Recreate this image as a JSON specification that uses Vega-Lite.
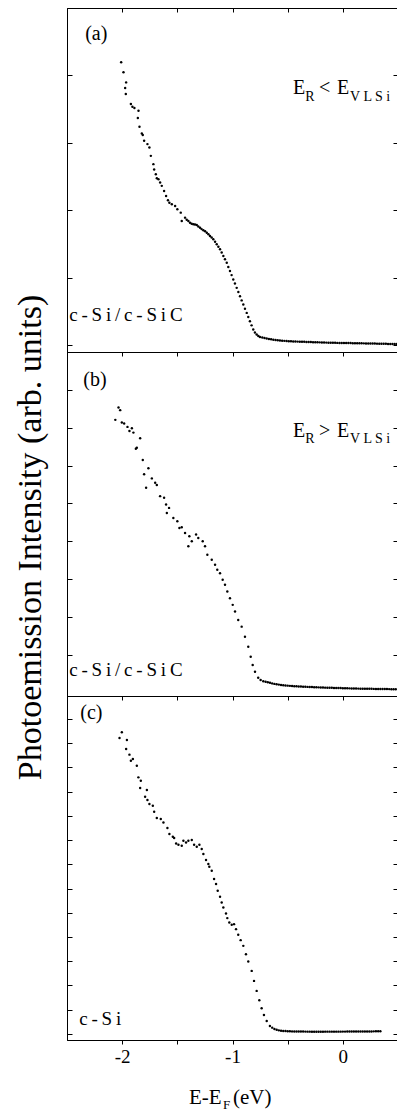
{
  "$schema": "https://vega.github.io/schema/vega-lite/v6.json",
  "padding": {"left": 12, "top": 7, "right": 0, "bottom": 0},
  "autosize": {"type": "pad"},
  "background": "white",
  "spacing": 0,
  "bounds": "flush",
  "config": {
    "view": {"stroke": "black", "strokeWidth": 1},
    "font": "Liberation Serif",
    "text": {"font": "Liberation Serif"},
    "axis": {"grid": false, "domainColor": "black", "tickColor": "black", "labelFont": "Liberation Serif", "titleFont": "Liberation Serif", "labelColor": "black", "titleColor": "black", "titleFontWeight": "normal"}
  },
  "datasets": {
    "a": [
      {"x":-2.009,"y":4.195},{"x":-1.988,"y":4.046},{"x":-1.964,"y":3.897},{"x":-1.973,"y":3.814},{"x":-1.967,"y":3.725},{"x":-1.921,"y":3.577},{"x":-1.907,"y":3.536},{"x":-1.889,"y":3.517},{"x":-1.852,"y":3.477},{"x":-1.858,"y":3.368},{"x":-1.843,"y":3.239},{"x":-1.822,"y":3.140},{"x":-1.813,"y":3.116},{"x":-1.801,"y":3.031},{"x":-1.771,"y":2.982},{"x":-1.753,"y":2.932},{"x":-1.740,"y":2.808},{"x":-1.717,"y":2.685},{"x":-1.710,"y":2.605},{"x":-1.695,"y":2.536},{"x":-1.686,"y":2.477},{"x":-1.671,"y":2.462},{"x":-1.656,"y":2.412},{"x":-1.641,"y":2.363},{"x":-1.620,"y":2.288},{"x":-1.602,"y":2.214},{"x":-1.585,"y":2.150},{"x":-1.572,"y":2.114},{"x":-1.550,"y":2.091},{"x":-1.520,"y":2.065},{"x":-1.500,"y":2.016},{"x":-1.469,"y":1.966},{"x":-1.460,"y":1.842},{"x":-1.430,"y":1.892},{"x":-1.415,"y":1.860},{"x":-1.400,"y":1.842},{"x":-1.385,"y":1.817},{"x":-1.370,"y":1.800},{"x":-1.355,"y":1.793},{"x":-1.340,"y":1.790},{"x":-1.324,"y":1.783},{"x":-1.310,"y":1.760},{"x":-1.294,"y":1.743},{"x":-1.280,"y":1.722},{"x":-1.264,"y":1.704},{"x":-1.248,"y":1.690},{"x":-1.233,"y":1.669},{"x":-1.218,"y":1.645},{"x":-1.204,"y":1.620},{"x":-1.189,"y":1.598},{"x":-1.174,"y":1.571},{"x":-1.158,"y":1.535},{"x":-1.143,"y":1.496},{"x":-1.128,"y":1.460},{"x":-1.113,"y":1.422},{"x":-1.098,"y":1.375},{"x":-1.083,"y":1.322},{"x":-1.068,"y":1.275},{"x":-1.052,"y":1.223},{"x":-1.038,"y":1.160},{"x":-1.023,"y":1.100},{"x":-1.008,"y":1.040},{"x":-0.993,"y":0.976},{"x":-0.978,"y":0.915},{"x":-0.962,"y":0.851},{"x":-0.947,"y":0.790},{"x":-0.932,"y":0.728},{"x":-0.917,"y":0.665},{"x":-0.902,"y":0.605},{"x":-0.887,"y":0.540},{"x":-0.871,"y":0.480},{"x":-0.857,"y":0.420},{"x":-0.842,"y":0.357},{"x":-0.827,"y":0.295},{"x":-0.812,"y":0.233},{"x":-0.797,"y":0.190},{"x":-0.781,"y":0.159},{"x":-0.766,"y":0.138},{"x":-0.751,"y":0.123},
      {"x":-0.73,"y":0.115},{"x":-0.71,"y":0.107},{"x":-0.69,"y":0.100},{"x":-0.67,"y":0.094},{"x":-0.65,"y":0.088},{"x":-0.63,"y":0.083},{"x":-0.61,"y":0.077},{"x":-0.59,"y":0.073},{"x":-0.57,"y":0.070},{"x":-0.55,"y":0.067},{"x":-0.53,"y":0.065},{"x":-0.51,"y":0.063},{"x":-0.49,"y":0.060},{"x":-0.47,"y":0.058},{"x":-0.45,"y":0.057},{"x":-0.43,"y":0.055},{"x":-0.41,"y":0.054},{"x":-0.39,"y":0.053},{"x":-0.37,"y":0.052},{"x":-0.35,"y":0.051},{"x":-0.33,"y":0.049},{"x":-0.31,"y":0.048},{"x":-0.29,"y":0.047},{"x":-0.27,"y":0.046},{"x":-0.25,"y":0.045},{"x":-0.23,"y":0.044},{"x":-0.21,"y":0.043},{"x":-0.19,"y":0.041},{"x":-0.17,"y":0.040},{"x":-0.15,"y":0.039},{"x":-0.13,"y":0.038},{"x":-0.11,"y":0.037},{"x":-0.09,"y":0.037},{"x":-0.07,"y":0.036},{"x":-0.05,"y":0.035},{"x":-0.03,"y":0.034},{"x":-0.01,"y":0.034},{"x":0.01,"y":0.033},{"x":0.03,"y":0.033},{"x":0.05,"y":0.032},{"x":0.07,"y":0.032},{"x":0.09,"y":0.031},{"x":0.11,"y":0.031},{"x":0.13,"y":0.030},{"x":0.15,"y":0.029},{"x":0.17,"y":0.029},{"x":0.19,"y":0.028},{"x":0.21,"y":0.027},{"x":0.23,"y":0.027},{"x":0.25,"y":0.026},{"x":0.27,"y":0.025},{"x":0.29,"y":0.025},{"x":0.31,"y":0.024},{"x":0.33,"y":0.023},{"x":0.35,"y":0.023},{"x":0.37,"y":0.022},{"x":0.39,"y":0.021},{"x":0.41,"y":0.020},{"x":0.43,"y":0.019},{"x":0.45,"y":0.019},{"x":0.47,"y":0.018},{"x":0.49,"y":0.018}
    ],
    "b": [
      {"x":-2.033,"y":6.533},{"x":-2.018,"y":6.464},{"x":-2.062,"y":6.207},{"x":-2.003,"y":6.135},{"x":-1.982,"y":6.109},{"x":-1.952,"y":6.021},{"x":-1.912,"y":5.987},{"x":-1.934,"y":5.915},{"x":-1.898,"y":5.870},{"x":-1.837,"y":5.721},{"x":-1.867,"y":5.472},{"x":-1.876,"y":5.446},{"x":-1.813,"y":5.146},{"x":-1.762,"y":4.926},{"x":-1.801,"y":4.767},{"x":-1.731,"y":4.660},{"x":-1.701,"y":4.544},{"x":-1.686,"y":4.483},{"x":-1.783,"y":4.411},{"x":-1.656,"y":4.191},{"x":-1.620,"y":4.146},{"x":-1.602,"y":3.971},{"x":-1.575,"y":3.881},{"x":-1.595,"y":3.748},{"x":-1.536,"y":3.615},{"x":-1.500,"y":3.528},{"x":-1.481,"y":3.350},{"x":-1.460,"y":3.369},{"x":-1.430,"y":3.218},{"x":-1.391,"y":3.130},{"x":-1.400,"y":2.865},{"x":-1.369,"y":2.997},{"x":-1.330,"y":3.175},{"x":-1.310,"y":3.085},{"x":-1.270,"y":2.997},{"x":-1.249,"y":2.865},{"x":-1.228,"y":2.645},{"x":-1.188,"y":2.512},{"x":-1.158,"y":2.379},{"x":-1.138,"y":2.247},{"x":-1.113,"y":2.156},{"x":-1.089,"y":1.981},{"x":-1.068,"y":1.849},{"x":-1.047,"y":1.671},{"x":-1.023,"y":1.493},{"x":-0.998,"y":1.318},{"x":-0.977,"y":1.141},{"x":-0.948,"y":0.920},{"x":-0.917,"y":0.743},{"x":-0.887,"y":0.477},{"x":-0.857,"y":0.212},{"x":-0.835,"y":-0.053},{"x":-0.817,"y":-0.273},{"x":-0.796,"y":-0.451},{"x":-0.767,"y":-0.610},{"x":-0.745,"y":-0.665},{"x":-0.721,"y":-0.698},
      {"x":-0.70,"y":-0.712},{"x":-0.68,"y":-0.727},{"x":-0.66,"y":-0.742},{"x":-0.64,"y":-0.757},{"x":-0.62,"y":-0.770},{"x":-0.60,"y":-0.780},{"x":-0.58,"y":-0.789},{"x":-0.56,"y":-0.797},{"x":-0.54,"y":-0.804},{"x":-0.52,"y":-0.810},{"x":-0.50,"y":-0.816},{"x":-0.48,"y":-0.822},{"x":-0.46,"y":-0.826},{"x":-0.44,"y":-0.830},{"x":-0.42,"y":-0.834},{"x":-0.40,"y":-0.837},{"x":-0.38,"y":-0.840},{"x":-0.36,"y":-0.843},{"x":-0.34,"y":-0.846},{"x":-0.32,"y":-0.849},{"x":-0.30,"y":-0.852},{"x":-0.28,"y":-0.854},{"x":-0.26,"y":-0.857},{"x":-0.24,"y":-0.860},{"x":-0.22,"y":-0.862},{"x":-0.20,"y":-0.864},{"x":-0.18,"y":-0.867},{"x":-0.16,"y":-0.869},{"x":-0.14,"y":-0.871},{"x":-0.12,"y":-0.872},{"x":-0.10,"y":-0.874},{"x":-0.08,"y":-0.876},{"x":-0.06,"y":-0.878},{"x":-0.04,"y":-0.879},{"x":-0.02,"y":-0.881},{"x":0.00,"y":-0.883},{"x":0.02,"y":-0.884},{"x":0.04,"y":-0.886},{"x":0.06,"y":-0.888},{"x":0.08,"y":-0.890},{"x":0.10,"y":-0.892},{"x":0.12,"y":-0.894},{"x":0.14,"y":-0.895},{"x":0.16,"y":-0.896},{"x":0.18,"y":-0.897},{"x":0.20,"y":-0.898},{"x":0.22,"y":-0.899},{"x":0.24,"y":-0.900},{"x":0.26,"y":-0.901},{"x":0.28,"y":-0.902},{"x":0.30,"y":-0.903},{"x":0.32,"y":-0.904},{"x":0.34,"y":-0.905},{"x":0.36,"y":-0.906},{"x":0.38,"y":-0.907},{"x":0.40,"y":-0.907},{"x":0.42,"y":-0.908},{"x":0.44,"y":-0.909},{"x":0.46,"y":-0.910},{"x":0.48,"y":-0.910}
    ],
    "c": [
      {"x":-2.003,"y":12.450},{"x":-2.024,"y":12.219},{"x":-1.957,"y":12.136},{"x":-1.964,"y":11.764},{"x":-1.934,"y":11.529},{"x":-1.921,"y":11.281},{"x":-1.903,"y":11.351},{"x":-1.867,"y":11.074},{"x":-1.853,"y":10.591},{"x":-1.831,"y":10.455},{"x":-1.837,"y":10.153},{"x":-1.776,"y":10.070},{"x":-1.792,"y":9.793},{"x":-1.771,"y":9.657},{"x":-1.753,"y":9.492},{"x":-1.722,"y":9.421},{"x":-1.710,"y":9.174},{"x":-1.686,"y":8.913},{"x":-1.650,"y":8.872},{"x":-1.626,"y":8.731},{"x":-1.590,"y":8.500},{"x":-1.572,"y":8.252},{"x":-1.541,"y":8.140},{"x":-1.529,"y":8.087},{"x":-1.511,"y":7.864},{"x":-1.490,"y":7.810},{"x":-1.460,"y":7.769},{"x":-1.445,"y":7.975},{"x":-1.421,"y":7.905},{"x":-1.400,"y":7.975},{"x":-1.369,"y":8.004},{"x":-1.348,"y":7.810},{"x":-1.324,"y":7.727},{"x":-1.300,"y":7.810},{"x":-1.279,"y":7.632},{"x":-1.264,"y":7.426},{"x":-1.240,"y":7.178},{"x":-1.219,"y":7.012},{"x":-1.210,"y":6.901},{"x":-1.188,"y":6.736},{"x":-1.167,"y":6.393},{"x":-1.149,"y":6.186},{"x":-1.134,"y":5.909},{"x":-1.113,"y":5.661},{"x":-1.098,"y":5.426},{"x":-1.083,"y":5.219},{"x":-1.059,"y":4.971},{"x":-1.047,"y":4.781},{"x":-1.029,"y":4.599},{"x":-1.007,"y":4.504},{"x":-0.986,"y":4.533},{"x":-0.968,"y":4.326},{"x":-0.948,"y":4.091},{"x":-0.926,"y":3.872},{"x":-0.902,"y":3.636},{"x":-0.878,"y":3.293},{"x":-0.857,"y":2.988},{"x":-0.826,"y":2.603},{"x":-0.805,"y":2.190},{"x":-0.781,"y":1.777},{"x":-0.757,"y":1.393},{"x":-0.736,"y":1.062},{"x":-0.715,"y":0.785},{"x":-0.690,"y":0.537},{"x":-0.661,"y":0.331},
      {"x":-0.64,"y":0.260},{"x":-0.62,"y":0.205},{"x":-0.60,"y":0.170},{"x":-0.58,"y":0.148},{"x":-0.56,"y":0.133},{"x":-0.54,"y":0.124},{"x":-0.52,"y":0.118},{"x":-0.50,"y":0.113},{"x":-0.48,"y":0.109},{"x":-0.46,"y":0.106},{"x":-0.44,"y":0.103},{"x":-0.42,"y":0.101},{"x":-0.40,"y":0.099},{"x":-0.38,"y":0.098},{"x":-0.36,"y":0.097},{"x":-0.34,"y":0.096},{"x":-0.32,"y":0.095},{"x":-0.30,"y":0.095},{"x":-0.28,"y":0.094},{"x":-0.26,"y":0.094},{"x":-0.24,"y":0.094},{"x":-0.22,"y":0.094},{"x":-0.20,"y":0.094},{"x":-0.18,"y":0.094},{"x":-0.16,"y":0.095},{"x":-0.14,"y":0.095},{"x":-0.12,"y":0.095},{"x":-0.10,"y":0.095},{"x":-0.08,"y":0.095},{"x":-0.06,"y":0.095},{"x":-0.04,"y":0.095},{"x":-0.02,"y":0.095},{"x":0.00,"y":0.096},{"x":0.02,"y":0.096},{"x":0.04,"y":0.097},{"x":0.06,"y":0.097},{"x":0.08,"y":0.098},{"x":0.10,"y":0.098},{"x":0.12,"y":0.099},{"x":0.14,"y":0.100},{"x":0.16,"y":0.100},{"x":0.18,"y":0.101},{"x":0.20,"y":0.102},{"x":0.22,"y":0.103},{"x":0.24,"y":0.104},{"x":0.26,"y":0.105},{"x":0.28,"y":0.107},{"x":0.30,"y":0.108},{"x":0.32,"y":0.110},{"x":0.34,"y":0.112}
    ],
    "labels": [
      {"panel":"a","kind":"lab","x":-2.335,"y":4.52,"text":"(a)"},
      {"panel":"a","kind":"main","x":-2.48,"y":0.357,"text":"c\u2009-\u2009S\u2009i\u2009/\u2009c\u2009-\u2009S\u2009i\u2009C"},
      {"panel":"a","kind":"lab","x":-0.452,"y":3.725,"text":"E"},
      {"panel":"a","kind":"sub","x":-0.340,"y":3.626,"text":"R"},
      {"panel":"a","kind":"lab","x":-0.215,"y":3.725,"text":"<"},
      {"panel":"a","kind":"lab","x":-0.054,"y":3.725,"text":"E"},
      {"panel":"a","kind":"sub","x":0.066,"y":3.626,"text":"V L S i"},
      {"panel":"b","kind":"lab","x":-2.353,"y":7.11,"text":"(b)"},
      {"panel":"b","kind":"main","x":-2.48,"y":-0.557,"text":"c\u2009-\u2009S\u2009i\u2009/\u2009c\u2009-\u2009S\u2009i\u2009C"},
      {"panel":"b","kind":"lab","x":-0.452,"y":5.756,"text":"E"},
      {"panel":"b","kind":"sub","x":-0.340,"y":5.597,"text":"R"},
      {"panel":"b","kind":"lab","x":-0.215,"y":5.756,"text":">"},
      {"panel":"b","kind":"lab","x":-0.054,"y":5.756,"text":"E"},
      {"panel":"b","kind":"sub","x":0.066,"y":5.597,"text":"V L S i"},
      {"panel":"c","kind":"lab","x":-2.38,"y":12.98,"text":"(c)"},
      {"panel":"c","kind":"main","x":-2.389,"y":0.37,"text":"c\u2009-\u2009S\u2009i"},
      {"panel":"c","kind":"ttl","x":-1.394,"y":-2.89,"text":"E-E"},
      {"panel":"c","kind":"sub","x":-1.086,"y":-3.10,"text":"F"},
      {"panel":"c","kind":"ttl","x":-0.995,"y":-2.89,"text":"(eV)"}
    ]
  },
  "vconcat": [
    {
      "width": 331, "height": 344,
      "resolve": {"axis": {"x": "independent", "y": "independent"}},
      "layer": [
        {"data": {"name": "a"}, "mark": {"type": "circle", "size": 6, "color": "black", "opacity": 1},
         "encoding": {
           "x": {"field": "x", "type": "quantitative", "scale": {"domain": [-2.5, 0.5], "nice": false, "zero": false}, "axis": {"orient": "bottom", "values": [-2, -1.5, -1, -0.5, 0], "labels": false, "tickSize": 4, "title": null}},
           "y": {"field": "y", "type": "quantitative", "scale": {"domain": [-0.1, 5.0], "nice": false, "zero": false}, "axis": {"orient": "left", "values": [0, 1, 2, 3, 4], "labels": false, "tickSize": -5, "title": null}}
         }},
        {"data": {"name": "a"}, "mark": {"type": "circle", "size": 6, "opacity": 0},
         "encoding": {
           "x": {"field": "x", "type": "quantitative", "scale": {"domain": [-2.5, 0.5], "nice": false, "zero": false}, "axis": {"orient": "top", "values": [-2, -1.5, -1, -0.5, 0], "labels": false, "tickSize": -4, "title": null}},
           "y": {"field": "y", "type": "quantitative", "scale": {"domain": [-0.1, 5.0], "nice": false, "zero": false}, "axis": {"orient": "right", "values": [0, 1, 2, 3, 4], "labels": false, "tickSize": -5, "title": null}}
         }},
        {"data": {"name": "labels"}, "transform": [{"filter": "datum.panel == 'a' && datum.kind == 'lab'"}],
         "mark": {"type": "text", "align": "left", "baseline": "alphabetic", "fontSize": 20, "font": "Liberation Serif", "color": "black"},
         "encoding": {"x": {"field": "x", "type": "quantitative", "axis": null}, "y": {"field": "y", "type": "quantitative", "axis": null}, "text": {"field": "text"}}},
        {"data": {"name": "labels"}, "transform": [{"filter": "datum.panel == 'a' && datum.kind == 'main'"}],
         "mark": {"type": "text", "align": "left", "baseline": "alphabetic", "fontSize": 19, "font": "Liberation Serif", "color": "black"},
         "encoding": {"x": {"field": "x", "type": "quantitative", "axis": null}, "y": {"field": "y", "type": "quantitative", "axis": null}, "text": {"field": "text"}}},
        {"data": {"name": "labels"}, "transform": [{"filter": "datum.panel == 'a' && datum.kind == 'sub'"}],
         "mark": {"type": "text", "align": "left", "baseline": "alphabetic", "fontSize": 14, "font": "Liberation Serif", "color": "black"},
         "encoding": {"x": {"field": "x", "type": "quantitative", "axis": null}, "y": {"field": "y", "type": "quantitative", "axis": null}, "text": {"field": "text"}}}
      ]
    },
    {
      "width": 331, "height": 344,
      "resolve": {"axis": {"x": "independent", "y": "independent"}},
      "layer": [
        {"data": {"name": "b"}, "mark": {"type": "circle", "size": 6, "color": "black", "opacity": 1},
         "encoding": {
           "x": {"field": "x", "type": "quantitative", "scale": {"domain": [-2.5, 0.5], "nice": false, "zero": false}, "axis": {"orient": "bottom", "values": [-2, -1.5, -1, -0.5, 0], "labels": false, "tickSize": 4, "title": null}},
           "y": {"field": "y", "type": "quantitative", "scale": {"domain": [-1.09, 8.0], "nice": false, "zero": false}, "axis": {"orient": "left", "values": [0, 1, 2, 3, 4, 5, 6, 7], "labels": false, "tickSize": -5, "title": "Photoemission Intensity (arb. units)", "titleFontSize": 34, "titleAngle": 270, "titleX": -37, "titleY": 185, "titleAlign": "center", "titleBaseline": "middle"}}
         }},
        {"data": {"name": "b"}, "mark": {"type": "circle", "size": 6, "opacity": 0},
         "encoding": {
           "x": {"field": "x", "type": "quantitative", "scale": {"domain": [-2.5, 0.5], "nice": false, "zero": false}, "axis": null},
           "y": {"field": "y", "type": "quantitative", "scale": {"domain": [-1.09, 8.0], "nice": false, "zero": false}, "axis": {"orient": "right", "values": [0, 1, 2, 3, 4, 5, 6, 7], "labels": false, "tickSize": -5, "title": null}}
         }},
        {"data": {"name": "labels"}, "transform": [{"filter": "datum.panel == 'b' && datum.kind == 'lab'"}],
         "mark": {"type": "text", "align": "left", "baseline": "alphabetic", "fontSize": 20, "font": "Liberation Serif", "color": "black"},
         "encoding": {"x": {"field": "x", "type": "quantitative", "axis": null}, "y": {"field": "y", "type": "quantitative", "axis": null}, "text": {"field": "text"}}},
        {"data": {"name": "labels"}, "transform": [{"filter": "datum.panel == 'b' && datum.kind == 'main'"}],
         "mark": {"type": "text", "align": "left", "baseline": "alphabetic", "fontSize": 19, "font": "Liberation Serif", "color": "black"},
         "encoding": {"x": {"field": "x", "type": "quantitative", "axis": null}, "y": {"field": "y", "type": "quantitative", "axis": null}, "text": {"field": "text"}}},
        {"data": {"name": "labels"}, "transform": [{"filter": "datum.panel == 'b' && datum.kind == 'sub'"}],
         "mark": {"type": "text", "align": "left", "baseline": "alphabetic", "fontSize": 14, "font": "Liberation Serif", "color": "black"},
         "encoding": {"x": {"field": "x", "type": "quantitative", "axis": null}, "y": {"field": "y", "type": "quantitative", "axis": null}, "text": {"field": "text"}}}
      ]
    },
    {
      "width": 331, "height": 344,
      "resolve": {"axis": {"x": "independent", "y": "independent"}},
      "layer": [
        {"data": {"name": "c"}, "mark": {"type": "circle", "size": 6, "color": "black", "opacity": 1},
         "encoding": {
           "x": {"field": "x", "type": "quantitative", "scale": {"domain": [-2.5, 0.5], "nice": false, "zero": false}, "axis": {"orient": "bottom", "values": [-2, -1.5, -1, -0.5, 0], "tickSize": 4, "title": null, "labelFontSize": 19, "labelPadding": 3, "labelExpr": "datum.value % 1 == 0 ? '' + datum.value : ''"}},
           "y": {"field": "y", "type": "quantitative", "scale": {"domain": [-0.25, 13.95], "nice": false, "zero": false}, "axis": {"orient": "left", "values": [0, 1, 2, 3, 4, 5, 6, 7, 8, 9, 10, 11, 12, 13], "labels": false, "tickSize": -5, "title": null}}
         }},
        {"data": {"name": "c"}, "mark": {"type": "circle", "size": 6, "opacity": 0},
         "encoding": {
           "x": {"field": "x", "type": "quantitative", "scale": {"domain": [-2.5, 0.5], "nice": false, "zero": false}, "axis": null},
           "y": {"field": "y", "type": "quantitative", "scale": {"domain": [-0.25, 13.95], "nice": false, "zero": false}, "axis": {"orient": "right", "values": [0, 1, 2, 3, 4, 5, 6, 7, 8, 9, 10, 11, 12, 13], "labels": false, "tickSize": -5, "title": null}}
         }},
        {"data": {"name": "labels"}, "transform": [{"filter": "datum.panel == 'c' && datum.kind == 'lab'"}],
         "mark": {"type": "text", "align": "left", "baseline": "alphabetic", "fontSize": 20, "font": "Liberation Serif", "color": "black"},
         "encoding": {"x": {"field": "x", "type": "quantitative", "axis": null}, "y": {"field": "y", "type": "quantitative", "axis": null}, "text": {"field": "text"}}},
        {"data": {"name": "labels"}, "transform": [{"filter": "datum.panel == 'c' && datum.kind == 'main'"}],
         "mark": {"type": "text", "align": "left", "baseline": "alphabetic", "fontSize": 19, "font": "Liberation Serif", "color": "black"},
         "encoding": {"x": {"field": "x", "type": "quantitative", "axis": null}, "y": {"field": "y", "type": "quantitative", "axis": null}, "text": {"field": "text"}}},
        {"data": {"name": "labels"}, "transform": [{"filter": "datum.panel == 'c' && datum.kind == 'ttl'"}],
         "mark": {"type": "text", "align": "left", "baseline": "alphabetic", "fontSize": 21, "font": "Liberation Serif", "color": "black"},
         "encoding": {"x": {"field": "x", "type": "quantitative", "axis": null}, "y": {"field": "y", "type": "quantitative", "axis": null}, "text": {"field": "text"}}},
        {"data": {"name": "labels"}, "transform": [{"filter": "datum.panel == 'c' && datum.kind == 'sub'"}],
         "mark": {"type": "text", "align": "left", "baseline": "alphabetic", "fontSize": 13, "font": "Liberation Serif", "color": "black"},
         "encoding": {"x": {"field": "x", "type": "quantitative", "axis": null}, "y": {"field": "y", "type": "quantitative", "axis": null}, "text": {"field": "text"}}}
      ]
    }
  ]
}
